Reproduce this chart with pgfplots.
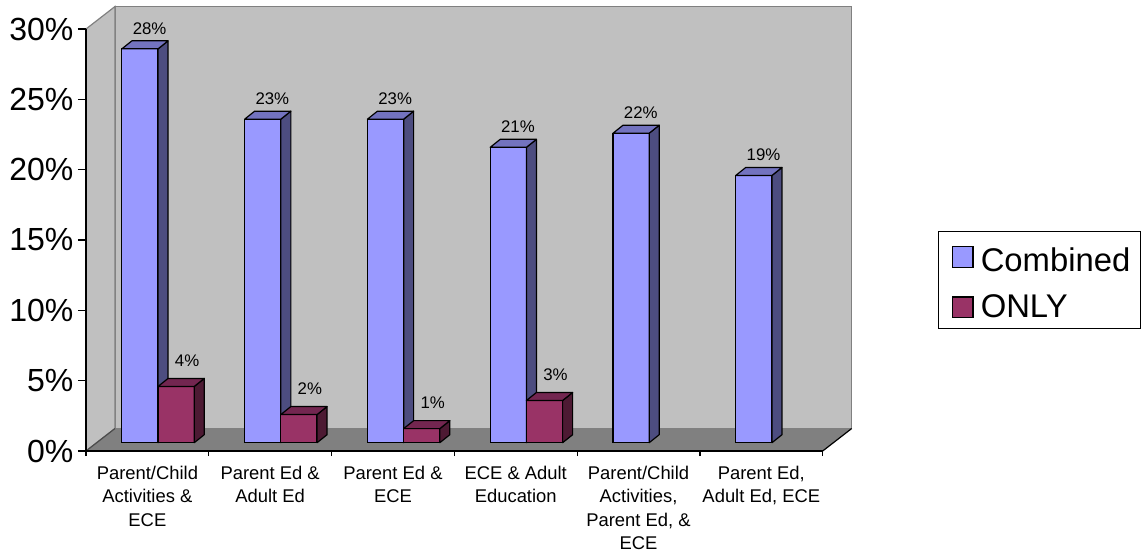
\documentclass[border=0pt]{standalone}
\usepackage{fontspec}
\setmainfont{Liberation Sans}
\usepackage{pgfplots}
\pgfplotsset{compat=1.18}
\definecolor{cfront}{HTML}{9999FF}
\definecolor{cside}{HTML}{4D4D80}
\definecolor{ctop}{HTML}{7373BF}
\definecolor{ofront}{HTML}{993366}
\definecolor{oside}{HTML}{4D1A33}
\definecolor{otop}{HTML}{732650}
\definecolor{wallc}{HTML}{C0C0C0}
\definecolor{floorc}{HTML}{808080}
\pgfplotsset{sqlegend/.style={legend image code/.code={\path (-3.5pt,0pt) (12pt,0pt);\draw[##1, line width=0.6pt] (0pt,-5.2pt) rectangle (10.4pt,5.2pt);}}}
% side and top faces of a 3-D bar: centre, value, side colour, top colour
\newcommand\barfaces[4]{%
 \pgfmathsetmacro\Lf{#1-0.1474+0.0871}%
 \pgfmathsetmacro\Rf{#1+0.1474+0.0871}%
 \pgfmathsetmacro\Lb{\Lf+0.0814}%
 \pgfmathsetmacro\Rb{\Rf+0.0814}%
 \pgfmathsetmacro\Yf{#2+0.590}%
 \pgfmathsetmacro\Yb{#2+0.590+0.5686}%
 \addplot[fill=#3, draw=black, line width=0.6pt, line join=round, mark=none, forget plot] coordinates {(\Rf,0.590) (\Rb,1.1586) (\Rb,\Yb) (\Rf,\Yf)} -- cycle;
 \addplot[fill=#4, draw=black, line width=0.6pt, line join=round, mark=none, forget plot] coordinates {(\Lf,\Yf) (\Rf,\Yf) (\Rb,\Yb) (\Lb,\Yb)} -- cycle;
}
\begin{document}
\begin{tikzpicture}
\begin{axis}[
  at={(0,0)}, anchor=south west,
  scale only axis, width=368.35pt, height=211pt,
  xmin=-0.5, xmax=5.5, ymin=0, ymax=30,
  clip=false, axis on top,
  axis x line*=bottom, axis y line*=left,
  axis line style={line width=0.6pt, black},
  tick align=outside,
  major tick length=4pt, minor tick length=2.5pt,
  tick style={line width=0.6pt, black},
  every major x tick/.append style={draw=none},
  xtick={0,1,2,3,4,5},
  minor xtick={-0.5,0.5,1.5,2.5,3.5,4.5,5.5},
  xticklabels={{Parent/Child\\Activities \&\\ECE},{Parent Ed \&\\Adult Ed},{Parent Ed \&\\ECE},{ECE \& Adult\\Education},{Parent/Child\\Activities,\\Parent Ed, \&\\ECE},{Parent Ed,\\Adult Ed, ECE}},
  xticklabel style={align=center, font=\fontsize{9.2}{11.7}\selectfont, anchor=north},
  ytick={0,5,10,15,20,25,30},
  yticklabel={\pgfmathprintnumber{\tick}\%},
  yticklabel style={font=\fontsize{16}{19}\selectfont, xshift=1.2pt},
  /pgf/number format/assume math mode=true,
  legend style={at={(1.1565,0.5213)}, anchor=north west, draw=black, line width=0.6pt,
    font=\fontsize{16.4}{19}\selectfont, row sep=6.25pt},
  legend cell align=left,
]
% walls and floor
\addplot[fill=wallc, draw=floorc, line width=0.6pt, mark=none, forget plot] coordinates {(-0.2638,1.599) (5.7362,1.599) (5.7362,31.599) (-0.2638,31.599)} -- cycle;
\addplot[fill=wallc, draw=floorc, line width=0.6pt, mark=none, forget plot] coordinates {(-0.5,0) (-0.2638,1.599) (-0.2638,31.599) (-0.5,30)} -- cycle;
\addplot[fill=floorc, draw=none, mark=none, forget plot] coordinates {(-0.5,0) (5.5,0) (5.7362,1.599) (-0.2638,1.599)} -- cycle;
\addplot[draw=black, line width=0.6pt, mark=none, forget plot] coordinates {(5.5,0) (5.7362,1.599)};
\addplot[draw=black!70, line width=0.6pt, mark=none, forget plot] coordinates {(-0.5,0) (-0.2638,1.599)};
% Combined
\addplot[ybar, bar width=0.2948, bar shift=-0.1474, fill=cfront, draw=black, line width=0.6pt,
  xshift=5.35pt, yshift=4.15pt, forget plot,
  nodes near coords={\pgfmathprintnumber{\pgfplotspointmeta}\%},
  nodes near coords style={font=\fontsize{8.4}{9}\selectfont, anchor=base, xshift=-4.25pt, yshift=7.3pt}]
  coordinates {(0,28) (1,23) (2,23) (3,21) (4,22) (5,19)};
\barfaces{-0.1474}{28}{cside}{ctop}
\barfaces{0.8526}{23}{cside}{ctop}
\barfaces{1.8526}{23}{cside}{ctop}
\barfaces{2.8526}{21}{cside}{ctop}
\barfaces{3.8526}{22}{cside}{ctop}
\barfaces{4.8526}{19}{cside}{ctop}
% ONLY
\addplot[ybar, bar width=0.2948, bar shift=0.1474, fill=ofront, draw=black, line width=0.6pt,
  xshift=5.35pt, yshift=4.15pt, forget plot,
  nodes near coords={\pgfmathprintnumber{\pgfplotspointmeta}\%},
  nodes near coords style={font=\fontsize{8.4}{9}\selectfont, anchor=base, xshift=14.5pt, yshift=10.2pt}]
  coordinates {(0,4) (1,2) (2,1) (3,3)};
\barfaces{0.1474}{4}{oside}{otop}
\barfaces{1.1474}{2}{oside}{otop}
\barfaces{2.1474}{1}{oside}{otop}
\barfaces{3.1474}{3}{oside}{otop}
\addlegendimage{sqlegend, fill=cfront, draw=black}
\addlegendentry{\rule{0pt}{15.7pt}Combined}
\addlegendimage{sqlegend, fill=ofront, draw=black}
\addlegendentry{ONLY}
\end{axis}
\pgfresetboundingbox
\path[use as bounding box] (-43pt,-53pt) rectangle (530pt,225.5pt);
\end{tikzpicture}
\end{document}
